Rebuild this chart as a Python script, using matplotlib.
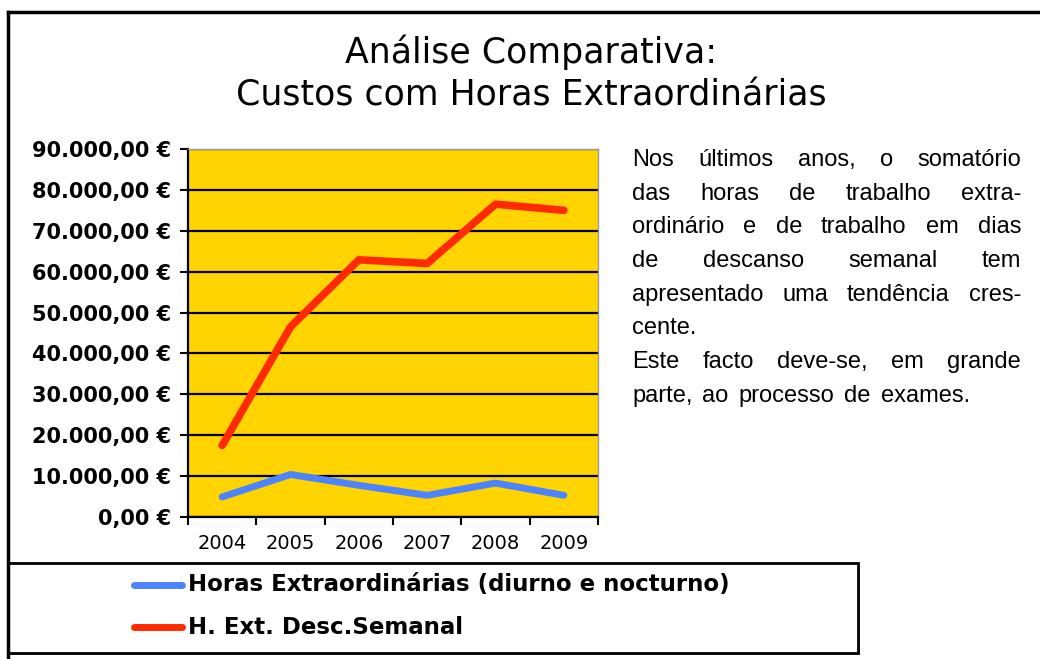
import matplotlib
matplotlib.use('Agg')
import numpy as np
from matplotlib import pyplot as plt
from matplotlib.patches import Rectangle
from matplotlib.lines import Line2D

# Data
years = ['2004', '2005', '2006', '2007', '2008', '2009']
horas_extra = [4900, 10400, 7750, 5300, 8300, 5300]
desc_semanal = [17500, 46500, 62900, 62000, 76500, 75000]
y_ticks = np.arange(0, 90001, 10000)

label_blue = 'Horas Extraordinárias (diurno e nocturno)'
label_red = 'H. Ext. Desc.Semanal'
title_lines = ['Análise Comparativa:', 'Custos com Horas Extraordinárias']
note_lines = [
    ('Nos últimos anos, o somatório', True),
    ('das horas de trabalho extra-', True),
    ('ordinário e de trabalho em dias', True),
    ('de descanso semanal tem', True),
    ('apresentado uma tendência cres-', True),
    ('cente.', False),
    ('Este facto deve-se, em grande', True),
    ('parte, ao processo de exames.', False),
]

W, H = 1040, 659
fig = plt.figure(figsize=(W / 100, H / 100), dpi=100)


def fx(px):
    return px / W


def fy(py):
    return 1 - py / H


# outer frame (left and top edges visible)
fig.add_artist(Line2D([fx(8), fx(8)], [fy(12), 0], color='k', lw=2.5))
fig.add_artist(Line2D([fx(8), 1], [fy(12), fy(12)], color='k', lw=2.5))

for i, t in enumerate(title_lines):
    fig.text(fx(531), fy(52 + i * 43), t, ha='center', va='center',
             fontsize=25, family='DejaVu Sans')

ax = fig.add_axes([fx(188), fy(517), fx(598 - 188), (517 - 149) / H])
ax.set_facecolor('#FFD400')
x = np.arange(len(years))
ax.plot(x, horas_extra, color='#4C84FF', lw=5, solid_capstyle='round', zorder=3)
ax.plot(x, desc_semanal, color='#FF2A00', lw=5.5, solid_capstyle='round', zorder=3)

ax.set_xlim(-0.5, len(years) - 0.5)
ax.set_ylim(0, 90000)
ax.set_yticks(y_ticks)
ax.set_yticklabels([f'{v:,.2f}'.replace(',', ' ').replace('.', ',').replace(' ', '.') + ' €'
                    for v in y_ticks], fontsize=15, fontweight='bold', family='DejaVu Sans')
ax.set_xticks(np.arange(len(years) + 1) - 0.5)
ax.set_xticklabels([])
ax.set_xticks(x, minor=True)
ax.set_xticklabels(years, minor=True, fontsize=14, family='DejaVu Sans')
ax.tick_params(axis='x', which='minor', length=0, pad=12)
ax.tick_params(axis='both', which='major', length=6, width=1.5, direction='out', color='k')
ax.tick_params(axis='y', pad=6)
ax.grid(axis='y', color='k', lw=1.6, zorder=1)
ax.set_axisbelow(True)
ax.spines['left'].set_linewidth(1.6)
ax.spines['bottom'].set_linewidth(1.6)
ax.spines['top'].set_color('#999999')
ax.spines['right'].set_color('#999999')
ax.spines['top'].set_linewidth(1)
ax.spines['right'].set_linewidth(1)

# legend box
fig.add_artist(Rectangle((fx(10), fy(655)), fx(850), (655 - 565) / H, transform=fig.transFigure,
                         facecolor='#AAAAAA', edgecolor='none'))
fig.add_artist(Rectangle((fx(8), fy(653)), fx(850), (653 - 563) / H, transform=fig.transFigure,
                         facecolor='white', edgecolor='k', lw=2))
for yy, col, lab in [(585, '#4C84FF', label_blue), (627, '#FF2A00', label_red)]:
    fig.add_artist(Line2D([fx(134), fx(182)], [fy(yy), fy(yy)], color=col, lw=5,
                          solid_capstyle='round'))
    fig.text(fx(188), fy(yy), lab, ha='left', va='center', fontsize=16.5, fontweight='bold',
             family='DejaVu Sans')

# justified note on the right
renderer = fig.canvas.get_renderer()
left, right = 632, 1021
for i, (line, justify) in enumerate(note_lines):
    yy = fy(160 + i * 33.7)
    words = line.split(' ')
    arts = [fig.text(0, yy, w, ha='left', va='center', fontsize=17, family='Liberation Sans')
            for w in words]
    widths = [a.get_window_extent(renderer).width for a in arts]
    if justify and len(words) > 1:
        gap = (right - left - sum(widths)) / (len(words) - 1)
    else:
        gap = 10
    pos = left
    for a, w in zip(arts, widths):
        a.set_x(fx(pos))
        pos += w + gap

fig.savefig('out.png', dpi=100)
